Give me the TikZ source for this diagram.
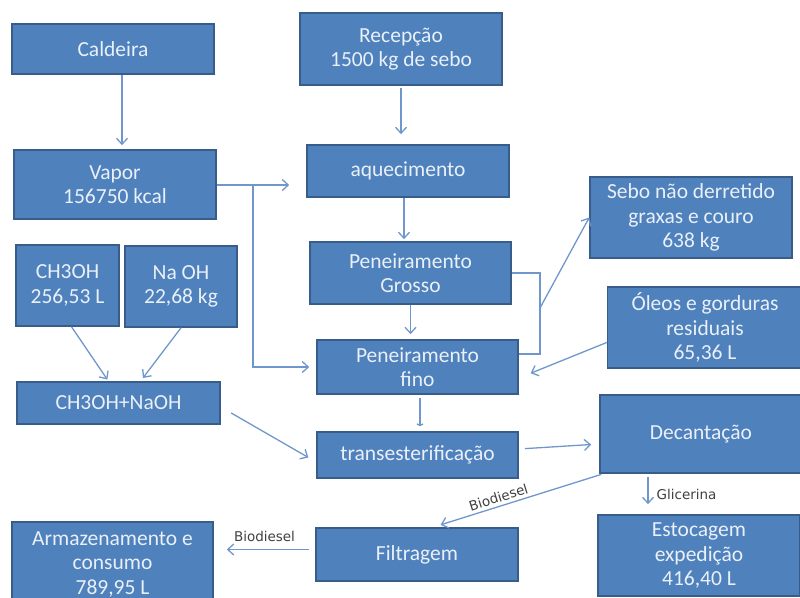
\documentclass[tikz,border=0pt]{standalone}
\usepackage{fontspec}
\setmainfont{Carlito}
\newfontfamily\tagfont{DejaVu Sans}
\usetikzlibrary{arrows.meta}
\definecolor{boxblue}{HTML}{4F81BD}
\definecolor{boxedge}{HTML}{385D8A}
\definecolor{flowblue}{HTML}{6F97CB}
\definecolor{boxtext}{HTML}{EAF0F8}
\begin{document}
\begin{tikzpicture}[x=1pt,y=-1pt,
        stage/.style={rectangle,draw=boxedge,line width=1.6pt,fill=boxblue,text=boxtext,
            align=center,inner sep=0pt,font=\fontsize{21.5}{24.5}\selectfont},
        flow/.style={draw=flowblue,line width=1.3pt,-{Straight Barb[length=6pt,width=11pt]}},
        pipe/.style={draw=flowblue,line width=1.3pt},
        tag/.style={font=\tagfont\fontsize{13.5}{16}\selectfont,text=black!75,inner sep=2pt}]

    \useasboundingbox (0,0) rectangle (800,597);

    \node[stage,minimum width=202pt,minimum height=50pt] (caldeira) at (113,49) {Caldeira};
    \node[stage,minimum width=202pt,minimum height=72pt] (recepcao) at (401,49) {Recepção\\1500 kg de sebo};
    \node[stage,minimum width=202pt,minimum height=69pt] (vapor) at (115,184.5) {Vapor\\156750 kcal};
    \node[stage,minimum width=202pt,minimum height=52pt] (aquec) at (408,171) {aquecimento};
    \node[stage,minimum width=202pt,minimum height=81pt] (sebo) at (691,217.5) {Sebo não derretido\\graxas e couro\\638 kg};
    \node[stage,minimum width=201pt,minimum height=62pt] (grosso) at (410.5,273) {Peneiramento\\Grosso};
    \node[stage,minimum width=103pt,minimum height=81pt] (metanol) at (67.5,285.5) {CH3OH\\256,53 L};
    \node[stage,minimum width=112pt,minimum height=81pt] (soda) at (181,286.5) {Na OH\\22,68 kg};
    \node[stage,minimum width=201pt,minimum height=54pt] (fino) at (417.5,367) {Peneiramento\\fino};
    \node[stage,minimum width=195pt,minimum height=81pt] (oleos) at (705,327.5) {Óleos e gorduras\\residuais\\65,36 L};
    \node[stage,minimum width=203pt,minimum height=42pt] (mistura) at (118.5,403) {CH3OH+NaOH};
    \node[stage,minimum width=201pt,minimum height=46pt] (trans) at (417.5,455) {transesterificação};
    \node[stage,minimum width=202pt,minimum height=78pt] (decant) at (701,434) {Decantação};
    \node[stage,minimum width=202pt,minimum height=53pt] (filtr) at (417,554.5) {Filtragem};
    \node[stage,minimum width=201pt,minimum height=84pt] (armaz) at (112.5,564) {Armazenamento e\\consumo\\789,95 L};
    \node[stage,minimum width=202pt,minimum height=81pt] (estoc) at (699,555.5) {Estocagem\\expedição\\416,40 L};

    \coordinate (vsplit) at (253,185);
    \coordinate (bracket) at (540,308);

    \draw[flow,shorten >=4pt] ([xshift=9pt]caldeira.south) -- ([xshift=7pt]vapor.north);
    \draw[flow,shorten <=2pt,shorten >=10pt] (recepcao.south) -- (recepcao.south |- aquec.north);
    \draw[flow,shorten >=17pt] ([yshift=-0.5pt]vapor.east) -- ([yshift=-0.5pt]vapor.east -| aquec.west);
    \draw[flow,shorten >=7pt] (vsplit) -- (vsplit |- fino.west) -- (fino.west);
    \draw[flow,shorten >=2pt] ([xshift=-4pt]aquec.south) -- ([xshift=-4pt]aquec.south |- grosso.north);
    \draw[flow,shorten >=5pt] (grosso.south) -- (grosso.south |- fino.north);
    \draw[pipe] (grosso.east) -| (bracket) |- ([yshift=13pt]fino.east);
    \draw[flow] (bracket) -- (sebo.west);
    \draw[flow,shorten >=2pt] ([yshift=-15pt]oleos.west) -- ([shift={(10pt,-7pt)}]fino.east);
    \draw[pipe,-{Straight Barb[length=1.5pt,width=6pt]},shorten <=3pt,shorten >=5pt] ([xshift=2.5pt]fino.south) -- ([xshift=2.5pt]trans.north);
    \draw[flow,shorten >=2pt] ([xshift=4pt]metanol.south) -- ([xshift=-10pt]mistura.north);
    \draw[flow,shorten >=4pt] (soda.south) -- ([xshift=22pt]mistura.north);
    \draw[flow,shorten <=12pt,shorten >=9pt] ([yshift=-4pt]mistura.east) -- ([yshift=-7pt]trans.west);
    \draw[flow,shorten <=6pt,shorten >=8pt] ([yshift=6pt]trans.east) -- ([yshift=-10pt]decant.west);
    \draw[flow,shorten <=2pt,shorten >=8pt] ([xshift=4pt]decant.south west) -- ([xshift=16pt]filtr.north)
        node[tag,sloped,above=1pt,pos=0.6] {Biodiesel};
    \draw[flow,shorten <=3pt,shorten >=10pt] ([xshift=-53pt]decant.south) -- ([xshift=-53pt]decant.south |- estoc.north)
        node[tag,right=6pt,midway] {Glicerina};
    \draw[flow,shorten <=6pt,shorten >=13pt] ([yshift=5pt]filtr.west) -- ([yshift=5pt]filtr.west -| armaz.east)
        node[tag,above=5pt,midway] {Biodiesel};
\end{tikzpicture}
\end{document}
